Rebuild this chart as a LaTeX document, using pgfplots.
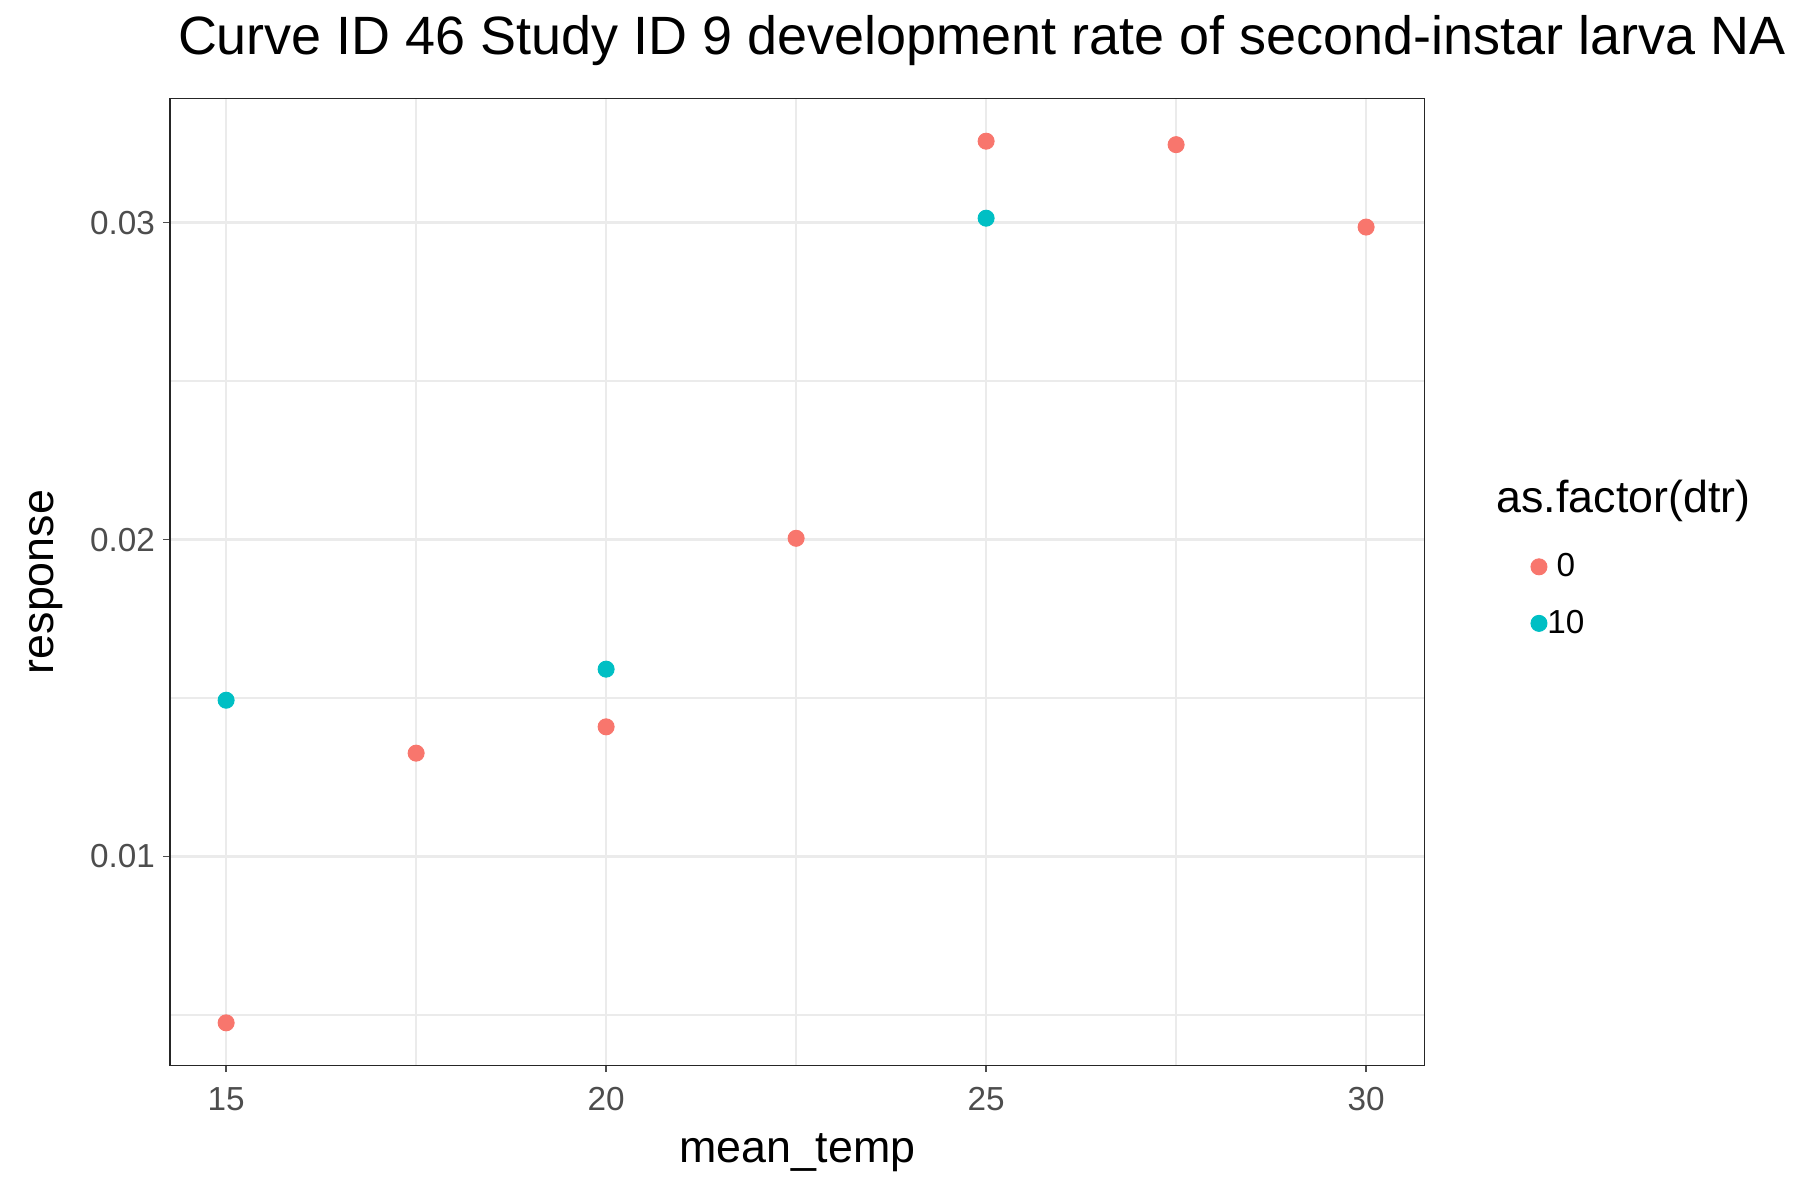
\documentclass[border=0pt]{standalone}
\usepackage{pgfplots}
\pgfplotsset{compat=1.18}
\usepackage{fontspec}
\setmainfont{Liberation Sans}
\definecolor{cr}{HTML}{F8766D}
\definecolor{cc}{HTML}{00BFC4}
\definecolor{gl}{HTML}{EBEBEB}
\definecolor{tk}{HTML}{4D4D4D}
\begin{document}
\begin{tikzpicture}
\begin{axis}[
  at={(0,0)}, anchor=south west,
  scale only axis, width=546.5pt, height=421pt,
  xmin=14.26, xmax=30.77, ymin=0.00341, ymax=0.03391,
  xtick={15,20,25,30}, ytick={0.01,0.02,0.03},
  minor xtick={17.5,22.5,27.5}, minor ytick={0.005,0.015,0.025},
  xtick pos=bottom, ytick pos=left,
  scaled y ticks=false,
  yticklabel style={/pgf/number format/fixed,/pgf/number format/precision=2,/pgf/number format/fixed zerofill},
  /pgf/number format/assume math mode=true,
  grid=both,
  major grid style={gl, line width=1.1pt},
  minor grid style={gl, line width=0.6pt},
  axis line style={black!85, line width=0.6pt},
  tick style={tk, line width=0.6pt},
  tick align=outside, major tick length=3pt, minor tick length=0pt,
  tick label style={font=\fontsize{14.5}{17}\selectfont, text=tk},
  xticklabel style={yshift=-3pt},
  xlabel={mean\_temp}, ylabel={response},
  label style={font=\fontsize{19.5}{22}\selectfont},
  xlabel style={yshift=-3pt},
  ylabel style={yshift=5pt},
  title={Curve ID 46 Study ID 9 development rate of second-instar larva NA},
  title style={font=\fontsize{23.5}{27}\selectfont, anchor=south west, at={(0,1)}, yshift=5pt},
  legend style={at={(1.084,0.53)}, anchor=north west, draw=none, fill=none,
    font=\fontsize{14.5}{17}\selectfont, row sep=13pt, inner sep=0pt, nodes={inner sep=0pt, xshift=14pt}},
  legend image code/.code={\fill[#1] (0.05cm,0cm) circle (3.5pt);},
  clip=false,
]
\addplot[only marks, mark=*, mark size=3.5pt, cr, draw=cr] coordinates {
(15,0.00475) (17.5,0.01326) (20,0.01409) (22.5,0.02004) (25,0.03257) (27.5,0.03246) (30,0.02986)};
\addlegendentry{0}
\addplot[only marks, mark=*, mark size=3.5pt, cc, draw=cc] coordinates {
(15,0.01493) (20,0.01591) (25,0.03014)};
\addlegendentry{10}
\node[anchor=west, font=\fontsize{19.5}{22}\selectfont, inner sep=0pt] at (rel axis cs:1.057,0.584) {as.factor(dtr)};
\end{axis}
\pgfresetboundingbox
\useasboundingbox (-74pt,-58.5pt) rectangle (710pt,464pt);
\end{tikzpicture}
\end{document}
